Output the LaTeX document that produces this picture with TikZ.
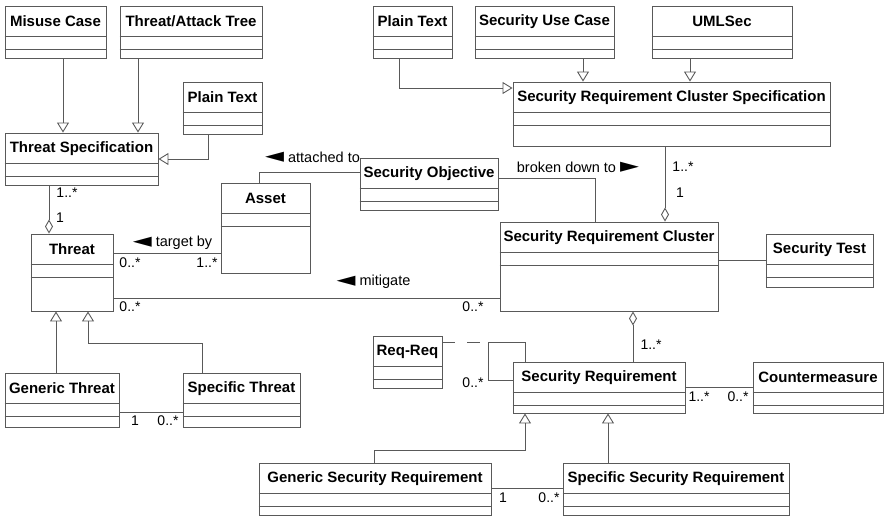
\documentclass[tikz,border=0pt]{standalone}
\usepackage{fontspec}
\setmainfont{Liberation Sans}
\newfontfamily\symfont{DejaVu Sans}
\usetikzlibrary{arrows.meta, positioning, fit, calc}

\begin{document}
\begin{tikzpicture}[x=1pt, y=-1pt]
  % Styles
  \tikzset{
    classbox/.style={draw=black!65, line width=0.9pt, inner sep=0pt},
    compart/.style={draw=black!65, line width=0.9pt},
    classtitle/.style={font=\fontsize{15}{17}\selectfont\bfseries, inner sep=0pt},
    assoc/.style={draw=black!65, line width=0.9pt},
    gen/.style={assoc, -{Triangle[open, length=10pt, width=12pt]}},
    aggr/.style={assoc, -{Diamond[open, length=14pt, width=8pt]}},
    mult/.style={font=\fontsize{14}{16}\selectfont, inner sep=0pt},
    rolelabel/.style={font=\fontsize{14.5}{17}\selectfont, inner sep=0pt}
  }
  \useasboundingbox (0,0) rectangle (884,519);

  % Direction marks of the role names
  \newcommand{\dirleft}{\raisebox{-0.5pt}{\scalebox{1.7}[1.4]{\symfont ◄}}}
  \newcommand{\dirright}{\raisebox{-0.5pt}{\scalebox{1.7}[1.4]{\symfont ►}}}

  % Helper macro: UML class box with title and two compartments
  \newcommand{\umlclass}[6]{% #1 name, #2 left, #3 top, #4 right, #5 bottom, #6 title
    \path (#2,#3) coordinate (#1-nw) (#4,#5) coordinate (#1-se);
    \node[classbox, fit=(#1-nw)(#1-se)] (#1) {};
    \node[classtitle] (#1-title) at ([yshift=-16pt]#1.north) {#6};
    \draw[compart] ([yshift=-30.5pt]#1.north west) -- ([yshift=-30.5pt]#1.north east);
    \draw[compart] ([yshift=-43.5pt]#1.north west) -- ([yshift=-43.5pt]#1.north east);
  }

  % Threat side
  \umlclass{misuse}{5}{6}{106}{58}{Misuse Case}
  \umlclass{attacktree}{120}{6}{262}{58}{Threat/Attack Tree}
  \umlclass{plainA}{183}{82}{262}{134}{Plain Text}
  \umlclass{threatspec}{5}{133}{158}{185}{Threat Specification}
  \umlclass{threat}{31}{234}{113}{311}{Threat}
  \umlclass{asset}{221}{183}{310}{273}{Asset}
  \umlclass{genthreat}{5}{373}{119}{427}{Generic Threat}
  \umlclass{specthreat}{183}{373}{300}{427}{Specific Threat}

  % Requirement side
  \umlclass{secobj}{360}{158}{498}{210}{Security Objective}
  \umlclass{plainB}{373}{6}{452}{58}{Plain Text}
  \umlclass{secusecase}{475}{6}{614}{58}{Security Use Case}
  \umlclass{umlsec}{652}{6}{792}{58}{UMLSec}
  \umlclass{clusterspec}{513}{82}{830}{146}{Security Requirement Cluster Specification}
  \umlclass{cluster}{500}{222}{718}{311}{Security Requirement Cluster}
  \umlclass{sectest}{766}{234}{873}{287}{Security Test}
  \umlclass{reqreq}{373}{336}{442}{388}{Req-Req}
  \umlclass{secreq}{513}{362}{685}{413}{Security Requirement}
  \umlclass{counter}{753}{362}{883}{413}{Countermeasure}
  \umlclass{genreq}{259}{463}{491}{515}{Generic Security Requirement}
  \umlclass{specreq}{563}{463}{789}{515}{Specific Security Requirement}

  % Generalisations
  \draw[gen] (misuse.south -| 63,0) -- (threatspec.north -| 63,0);
  \draw[gen] (attacktree.south -| 138,0) -- (threatspec.north -| 138,0);
  \draw[gen] (plainA.south -| 208,0) |- (threatspec.east);
  \draw[gen] (plainB.south -| 399,0) |- (clusterspec.west |- 0,88);
  \draw[gen] (secusecase.south -| 583,0) -- (clusterspec.north -| 583,0);
  \draw[gen] (umlsec.south -| 690,0) -- (clusterspec.north -| 690,0);
  \draw[gen] (genthreat.north -| 56,0) -- (threat.south -| 56,0);
  \coordinate (specbend) at (202,343);
  \draw[gen] (specthreat.north -| specbend) -- (specbend) -| (threat.south -| 88,0);
  \coordinate (genbend) at (374,450);
  \draw[gen] (genreq.north -| genbend) -- (genbend) -| (secreq.south -| 525,0);
  \draw[gen] (specreq.north -| 608,0) -- (secreq.south -| 608,0);

  % Aggregations
  \draw[aggr] (threatspec.south -| 49,0) -- (threat.north -| 49,0);
  \draw[aggr] (clusterspec.south -| 665,0) -- (cluster.north -| 665,0);
  \draw[aggr] (secreq.north -| 633,0) -- (cluster.south -| 633,0);

  % Associations
  \draw[assoc] (threat.east |- 0,253) -- (asset.west |- 0,253);
  \draw[assoc] (asset.north -| 259,0) |- (secobj.west |- 0,172);
  \draw[assoc] (secobj.east |- 0,178) -| (cluster.north -| 595,0);
  \draw[assoc] (threat.east |- 0,298) -- (cluster.west |- 0,298);
  \draw[assoc] (cluster.east |- 0,260) -- (sectest.west |- 0,260);
  \draw[assoc] (secreq.east |- 0,387) -- (counter.west |- 0,387);
  \draw[assoc] (genreq.east |- 0,488) -- (specreq.west |- 0,488);
  \draw[assoc] (genthreat.east |- 0,412) -- (specthreat.west |- 0,412);

  % Self association with association class
  \coordinate (selfloop) at (488,342);
  \draw[assoc] (secreq.north -| 525,0) |- (selfloop) |- (secreq.west |- 0,380);
  \draw[assoc, dash pattern=on 13pt off 12pt] (reqreq.east |- selfloop) -- (selfloop);

  % Role names
  \node[rolelabel] (attached) at (312.5,157) {\dirleft\ attached to};
  \node[rolelabel] (brokendown) at (578,167) {broken down to \dirright};
  \node[rolelabel] (targetby) at (172.5,243) {\dirleft\ target by};
  \node[rolelabel] (mitigate) at (373.5,282) {\dirleft\ mitigate};

  % Multiplicities
  \node[mult] (m-spec) at (67,193) {1..*};
  \node[mult] (m-spec1) at (60,218) {1};
  \node[mult] (m-tgt1) at (130,263) {0..*};
  \node[mult] (m-tgt2) at (207,263) {1..*};
  \node[mult] (m-mit1) at (130,307) {0..*};
  \node[mult] (m-mit2) at (473,307) {0..*};
  \node[mult] (m-cl1) at (683,167) {1..*};
  \node[mult] (m-cl2) at (680,193) {1};
  \node[mult] (m-req) at (651,345) {1..*};
  \node[mult] (m-self) at (473,383) {0..*};
  \node[mult] (m-cm1) at (699,397) {1..*};
  \node[mult] (m-cm2) at (738,397) {0..*};
  \node[mult] (m-gs1) at (503,498) {1};
  \node[mult] (m-gs2) at (549,498) {0..*};
  \node[mult] (m-gt1) at (135,421) {1};
  \node[mult] (m-gt2) at (168,421) {0..*};
\end{tikzpicture}
\end{document}
